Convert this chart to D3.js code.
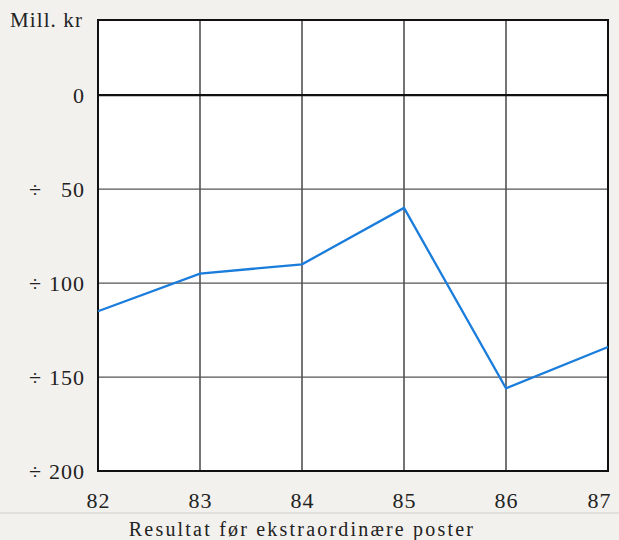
<!DOCTYPE html>
<html><head><meta charset="utf-8">
<script src="https://cdn.jsdelivr.net/npm/d3@7"></script>
<style>
html,body{margin:0;padding:0;background:#f3f1ee;}
svg{display:block;}
text{font-family:"Liberation Serif","DejaVu Serif",serif;fill:#222;}
</style></head>
<body>
<svg id="c" width="619" height="540"></svg>
<script>
const years = ["82","83","84","85","86","87"];
const values = [-115, -95, -90, -60, -156, -134];
const yTicks = [0, -50, -100, -150, -200];
const yUnit = "Mill. kr";
const title = "Resultat før ekstraordinære poster";

const svg = d3.select("#c");
const L = 98, R = 608, T = 20, B = 471;
const x = d3.scalePoint().domain(years).range([L, R]);
const y = d3.scaleLinear().domain([-200, 40]).range([B, T]);
const FONT = '"Liberation Serif","DejaVu Serif",serif';

svg.append("rect").attr("x", L).attr("y", T).attr("width", R - L).attr("height", B - T).attr("fill", "#fff");

// vertical grid
svg.append("g").selectAll("line").data(years.slice(1, -1)).join("line")
  .attr("x1", d => x(d)).attr("x2", d => x(d)).attr("y1", T).attr("y2", B)
  .attr("stroke", "#2a2a2a").attr("stroke-width", 1.3);
// horizontal grid
svg.append("g").selectAll("line").data(yTicks.filter(v => v !== -200)).join("line")
  .attr("x1", L).attr("x2", R).attr("y1", d => y(d)).attr("y2", d => y(d))
  .attr("stroke", d => d === 0 ? "#111" : "#555").attr("stroke-width", d => d === 0 ? 2.4 : 1.2);

// border
svg.append("rect").attr("x", L).attr("y", T).attr("width", R - L).attr("height", B - T)
  .attr("fill", "none").attr("stroke", "#111").attr("stroke-width", 2);

// line
svg.append("path").datum(values.map((v, i) => [years[i], v]))
  .attr("d", d3.line().x(d => x(d[0])).y(d => y(d[1])))
  .attr("fill", "none").attr("stroke", "#1a7ddc").attr("stroke-width", 2.3);

// y axis
const ya = svg.append("g").attr("transform", `translate(${L},0)`)
  .call(d3.axisLeft(y).tickValues(yTicks).tickSize(0).tickPadding(13).tickFormat(d => Math.abs(d)));
ya.select(".domain").remove();
ya.selectAll("text").attr("font-size", 22).attr("fill", "#222").attr("letter-spacing", 1).style("font-family", FONT);
ya.selectAll(".tick").filter(d => d < 0).append("text")
  .attr("x", 35 - L).attr("dy", "0.32em").attr("text-anchor", "middle")
  .attr("font-size", 22).attr("fill", "#222").style("font-family", FONT).text("÷");

// x axis
const xa = svg.append("g").attr("transform", `translate(0,${B})`)
  .call(d3.axisBottom(x).tickSize(0).tickPadding(21));
xa.select(".domain").remove();
xa.selectAll("text").attr("font-size", 22).attr("fill", "#222").attr("letter-spacing", 1).style("font-family", FONT);
xa.selectAll(".tick").filter(d => d === years[years.length - 1]).select("text").attr("dx", -9);

svg.append("text").attr("x", 10).attr("y", 27).attr("font-size", 21).attr("letter-spacing", 1.1).style("font-family", FONT).text(yUnit);
svg.append("line").attr("x1", 0).attr("x2", 619).attr("y1", 513).attr("y2", 513)
  .attr("stroke", "#dcdad6").attr("stroke-width", 1.5);
svg.append("text").attr("x", 302).attr("y", 536).attr("text-anchor", "middle").attr("font-size", 20)
  .attr("letter-spacing", 2.2).style("font-family", FONT).text(title);
</script>
</body></html>
